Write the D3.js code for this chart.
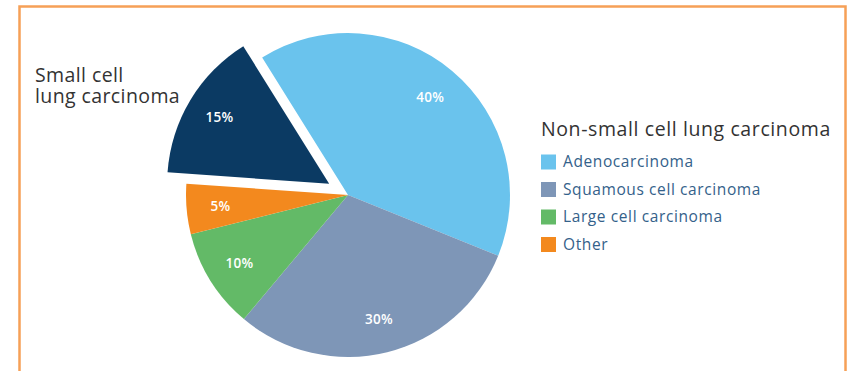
<!DOCTYPE html>
<html lang="en">
<head>
<meta charset="UTF-8">
<title>Lung cancer types</title>
<script src="https://d3js.org/d3.v7.min.js"></script>
<style>
    body { margin: 0; background: #fff; font-family: 'Open Sans', sans-serif; }
    svg { display: block; }
    .slice-label { fill: #fff; font-size: 13.5px; font-weight: 600; letter-spacing: 0.3px; }
    .legend-title { fill: #333; font-size: 19.5px; letter-spacing: 0.6px; }
    .legend-item { fill: #34618a; font-size: 15.5px; letter-spacing: 0.6px; }
    .side-label { fill: #333; font-size: 19.5px; letter-spacing: 0.4px; }
</style>
</head>
<body>
<div id="chart"></div>
<script>
    // slice data, clockwise from the top-left
    const types = ["Adenocarcinoma", "Squamous cell carcinoma", "Large cell carcinoma", "Other", "Small cell lung carcinoma"];
    const shares = [40, 30, 10, 5, 15];
    const colors = ["#6ac3ed", "#7e96b7", "#63ba67", "#f3891e", "#0b3a63"];
    const legendTypes = ["Adenocarcinoma", "Squamous cell carcinoma", "Large cell carcinoma", "Other"];

    const width = 853, height = 371;
    const cx = 348, cy = 195, radius = 162;
    const explode = 22;

    const svg = d3.select("#chart").append("svg")
        .attr("width", width)
        .attr("height", height);

    // orange frame (bottom runs off the picture)
    svg.append("rect")
        .attr("x", 19.5).attr("y", 6.5)
        .attr("width", 826).attr("height", 400)
        .attr("fill", "none")
        .attr("stroke", "#f6a057")
        .attr("stroke-width", 2.5);

    const start = -32 * Math.PI / 180;
    const pie = d3.pie().sort(null).startAngle(start).endAngle(start + 2 * Math.PI);
    const arcs = pie(shares);

    const arc = d3.arc().innerRadius(0).outerRadius(radius);
    const labelArc = d3.arc().innerRadius(128).outerRadius(128);

    const g = svg.append("g").attr("transform", `translate(${cx},${cy})`);

    const slices = g.selectAll(".slice")
        .data(arcs)
        .enter()
        .append("g")
        .attr("class", "slice")
        .attr("transform", (d, i) => {
            if (types[i] !== "Small cell lung carcinoma") return null;
            const mid = (d.startAngle + d.endAngle) / 2;
            return `translate(${Math.sin(mid) * explode},${-Math.cos(mid) * explode})`;
        });

    slices.append("path")
        .attr("d", arc)
        .attr("fill", (d, i) => colors[i]);

    slices.append("text")
        .attr("class", "slice-label")
        .attr("transform", d => `translate(${labelArc.centroid(d)})`)
        .attr("text-anchor", "middle")
        .attr("dy", "0.35em")
        .text(d => d.data + "%");

    // small cell label
    const side = svg.append("text")
        .attr("class", "side-label")
        .attr("x", 35).attr("y", 82);
    side.append("tspan").attr("x", 35).text("Small cell");
    side.append("tspan").attr("x", 35).attr("dy", 21).text("lung carcinoma");

    // legend
    const legend = svg.append("g").attr("transform", "translate(541,136)");
    legend.append("text")
        .attr("class", "legend-title")
        .attr("x", 0).attr("y", 0)
        .text("Non-small cell lung carcinoma");

    const rows = legend.selectAll(".row")
        .data(legendTypes)
        .enter()
        .append("g")
        .attr("class", "row")
        .attr("transform", (d, i) => `translate(0,${26 + i * 27.5})`);

    rows.append("rect")
        .attr("x", 0).attr("y", -7.5)
        .attr("width", 15).attr("height", 15)
        .attr("fill", d => colors[types.indexOf(d)]);

    rows.append("text")
        .attr("class", "legend-item")
        .attr("x", 22).attr("dy", "0.35em")
        .text(d => d);
</script>
</body>
</html>
